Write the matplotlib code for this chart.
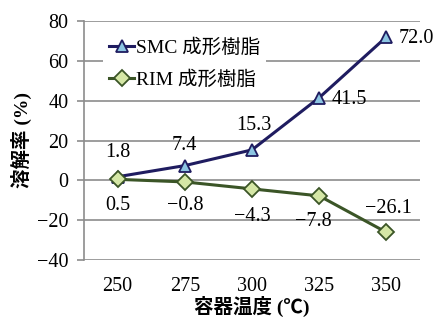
import matplotlib
matplotlib.use('Agg')
import matplotlib.pyplot as plt

plt.rcParams['font.family'] = ['Liberation Serif', 'Noto Sans CJK JP', 'DejaVu Sans']
plt.rcParams['axes.unicode_minus'] = True

# Data
temps = [250, 275, 300, 325, 350]
smc = [1.8, 7.4, 15.3, 41.5, 72.0]
rim = [0.5, -0.8, -4.3, -7.8, -26.1]
smc_labels = ['1.8', '7.4', '15.3', '41.5', '72.0']
rim_labels = ['0.5', '\u22120.8', '\u22124.3', '\u22127.8', '\u221226.1']
yticks = [-40, -20, 0, 20, 40, 60, 80]

# label offsets in pixels
smc_off = [(0, 24), (0, 20), (2, 24), (30, -2), (30, -2)]
rim_off = [(0, -26), (0, -24), (0, -28), (-6, -26), (2, 24)]

fig = plt.figure(figsize=(4.37, 3.18), dpi=100)
ax = fig.add_axes([84/437, 1 - 260/318, 336/437, 239/318])

navy = '#1f1c60'
green = '#3b5527'

ax.plot(temps, smc, color=navy, lw=2.2, marker='^', ms=9,
        mfc='#8cc5e2', mec=navy, mew=1.3, label='SMC 成形樹脂', zorder=4)
ax.plot(temps, rim, color=green, lw=2.2, marker='D', ms=8,
        mfc='#d5e7a6', mec=green, mew=1.3, label='RIM 成形樹脂', zorder=5)

for x, y, s, o in zip(temps, smc, smc_labels, smc_off):
    ax.annotate(s, (x, y), xytext=o, textcoords='offset pixels',
                ha='center', va='center', fontsize=14.5)
for x, y, s, o in zip(temps, rim, rim_labels, rim_off):
    ax.annotate(s, (x, y), xytext=o, textcoords='offset pixels',
                ha='center', va='center', fontsize=14.5)

ax.set_xlim(237.5, 362.5)
ax.set_ylim(-40, 80)
ax.set_xticks(temps)
ax.set_yticks(yticks)
ax.grid(axis='y', color='#8c8c8c', lw=1.2)
ax.set_axisbelow(True)
for side in ['top', 'right', 'bottom']:
    ax.spines[side].set_visible(False)
ax.spines['left'].set_color('#8c8c8c')
ax.spines['left'].set_linewidth(1.2)
ax.tick_params(axis='x', length=0, pad=12, labelsize=14.5)
ax.tick_params(axis='y', length=5, width=1.2, color='#8c8c8c', pad=6, labelsize=14.5)

ax.set_xlabel('容器温度 (℃)', fontsize=14, fontweight='bold', labelpad=0)
ax.set_ylabel('溶解率 (%)', fontsize=14, fontweight='bold', labelpad=4)

leg = ax.legend(loc='upper left', bbox_to_anchor=(0.057, 0.95), fontsize=14,
                frameon=True, facecolor='white', edgecolor='none', framealpha=1,
                fancybox=False, handlelength=1.3, handletextpad=0.1,
                labelspacing=0.7, borderpad=0.3, borderaxespad=0)

fig.savefig('out.png', dpi=100)
